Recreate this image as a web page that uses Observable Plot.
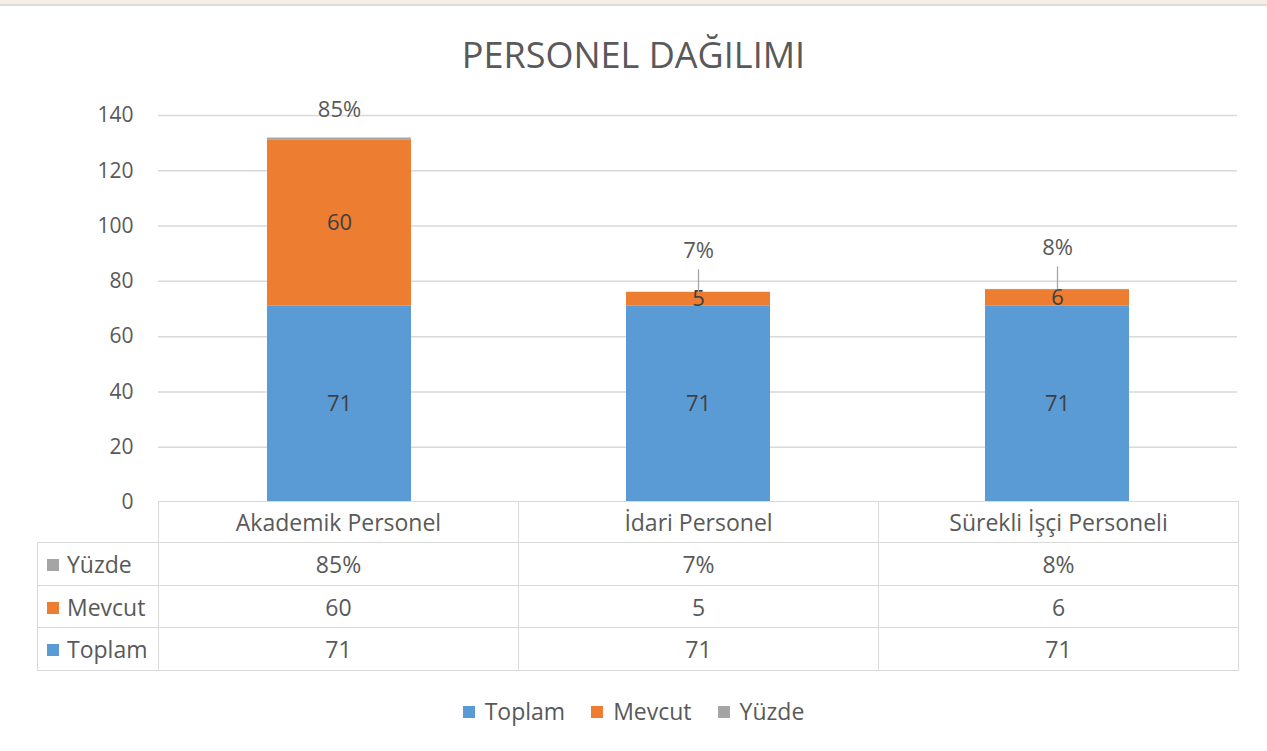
<!DOCTYPE html>
<html>
<head>
<meta charset="utf-8">
<script src="https://cdn.jsdelivr.net/npm/d3@7"></script>
<script src="https://cdn.jsdelivr.net/npm/@observablehq/plot@0.6"></script>
<style>
  html, body { margin: 0; padding: 0; background: #fff; }
  body { width: 1267px; height: 751px; position: relative; overflow: hidden; font-family: "Open Sans", sans-serif; color: #595959; }
  #topstrip { position: absolute; left: 0; top: 0; width: 1267px; height: 4px; background: #f5eee2; }
  #topline { position: absolute; left: 0; top: 4px; width: 1267px; height: 2px; background: #dcdcdc; }
  #title { position: absolute; left: 0; top: 32px; width: 1267px; text-align: center; font-size: 36px; line-height: 46px; color: #595959; }
  #chart { position: absolute; left: 0; top: 90px; }
  #datatable { position: absolute; left: 37px; top: 501px; width: 1201px; border-collapse: collapse; table-layout: fixed; font-size: 23px; color: #595959; }
  #datatable td { border: 1.5px solid #d9d9d9; text-align: center; padding: 0; }
  #datatable td.blank { border-top: none; border-left: none; }
  #datatable td.rowlabel { text-align: left; padding-left: 9px; white-space: nowrap; }
  .sw { display: inline-block; width: 12px; height: 12px; margin-right: 8px; vertical-align: 2px; }
  #legend { position: absolute; left: 0; top: 695px; width: 1267px; display: flex; justify-content: center; font-size: 23px; line-height: 32px; color: #595959; }
  #legend span.item { margin: 0 13px; white-space: nowrap; }
  #legend .sw { margin-right: 10px; }
</style>
</head>
<body>
<div id="topstrip"></div>
<div id="topline"></div>
<div id="title">PERSONEL DAĞILIMI</div>
<div id="chart"></div>
<table id="datatable"></table>
<div id="legend"></div>
<script>
const categories = ["Akademik Personel", "İdari Personel", "Sürekli İşçi Personeli"];
const seriesNames = ["Toplam", "Mevcut", "Yüzde"];
const seriesColors = ["#5b9bd5", "#ed7d31", "#a5a5a5"];
const toplam = [71, 71, 71];
const mevcut = [60, 5, 6];
const yuzde = [0.85, 0.07, 0.08];
const yuzdeLabels = ["85%", "7%", "8%"];
const yTicks = [0, 20, 40, 60, 80, 100, 120, 140];

// long-format rows for stacking
const rows = [];
categories.forEach((c, i) => {
  rows.push({category: c, series: "Toplam", value: toplam[i]});
  rows.push({category: c, series: "Mevcut", value: mevcut[i]});
  rows.push({category: c, series: "Yüzde", value: yuzde[i]});
});

// label rows derived from data
const segLabels = [];
categories.forEach((c, i) => {
  segLabels.push({category: c, mid: toplam[i] / 2, text: String(toplam[i])});
  segLabels.push({category: c, mid: toplam[i] + mevcut[i] / 2, text: String(mevcut[i])});
});
const pct = categories.map((c, i) => ({
  category: c, i, top: toplam[i] + mevcut[i] + yuzde[i], text: yuzdeLabels[i]
}));
const leaderLen = 8.3; // in data units

const chart = Plot.plot({
  width: 1267,
  height: 415,
  marginTop: 25,
  marginBottom: 3,
  marginLeft: 158,
  marginRight: 30,
  style: {fontFamily: "Open Sans, sans-serif", fontSize: "21px", color: "#595959", background: "transparent", overflow: "visible"},
  x: {domain: categories, paddingInner: 0.6, paddingOuter: 0.3, axis: null},
  y: {domain: [0, 140], ticks: yTicks, tickSize: 0, tickPadding: 25, label: null},
  color: {domain: seriesNames, range: seriesColors},
  marks: [
    Plot.gridY(yTicks.filter(t => t > 0), {stroke: "#d9d9d9", strokeOpacity: 1, strokeWidth: 1.5}),
    Plot.axisY({ticks: yTicks, tickSize: 0, tickPadding: 25, label: null, fontSize: 21, fill: "#595959"}),
    Plot.barY(rows, Plot.stackY({x: "category", y: "value", fill: "series", order: seriesNames})),
    Plot.text(segLabels, {x: "category", y: "mid", text: "text", fill: "#404040", fontSize: 22}),
    Plot.link(pct.filter(d => d.i > 0), {x1: "category", x2: "category", y1: "top", y2: d => d.top + leaderLen, stroke: "#a6a6a6", strokeWidth: 1.3}),
    Plot.text(pct.filter(d => d.i === 0), {x: "category", y: "top", text: "text", dy: -28, fill: "#595959", fontSize: 22}),
    Plot.text(pct.filter(d => d.i > 0), {x: "category", y: "top", text: "text", dy: -41, fill: "#595959", fontSize: 22})
  ]
});
document.getElementById("chart").appendChild(chart);

// data table
const tbl = document.getElementById("datatable");
const colgroup = document.createElement("colgroup");
[121, 360, 360, 360].forEach(w => {
  const col = document.createElement("col");
  col.style.width = w + "px";
  colgroup.appendChild(col);
});
tbl.appendChild(colgroup);
const header = document.createElement("tr");
header.style.height = "41px";
const blank = document.createElement("td");
blank.className = "blank";
header.appendChild(blank);
categories.forEach(c => {
  const td = document.createElement("td");
  td.textContent = c;
  header.appendChild(td);
});
tbl.appendChild(header);
const tableRows = [
  {name: "Yüzde", color: seriesColors[2], values: yuzdeLabels, h: 43},
  {name: "Mevcut", color: seriesColors[1], values: mevcut.map(String), h: 42},
  {name: "Toplam", color: seriesColors[0], values: toplam.map(String), h: 43}
];
tableRows.forEach(r => {
  const tr = document.createElement("tr");
  tr.style.height = r.h + "px";
  const lab = document.createElement("td");
  lab.className = "rowlabel";
  lab.innerHTML = `<span class="sw" style="background:${r.color}"></span>${r.name}`;
  tr.appendChild(lab);
  r.values.forEach(v => {
    const td = document.createElement("td");
    td.textContent = v;
    tr.appendChild(td);
  });
  tbl.appendChild(tr);
});

// legend
const legend = document.getElementById("legend");
seriesNames.forEach((s, i) => {
  const item = document.createElement("span");
  item.className = "item";
  item.innerHTML = `<span class="sw" style="background:${seriesColors[i]}"></span>${s}`;
  legend.appendChild(item);
});
</script>
</body>
</html>
